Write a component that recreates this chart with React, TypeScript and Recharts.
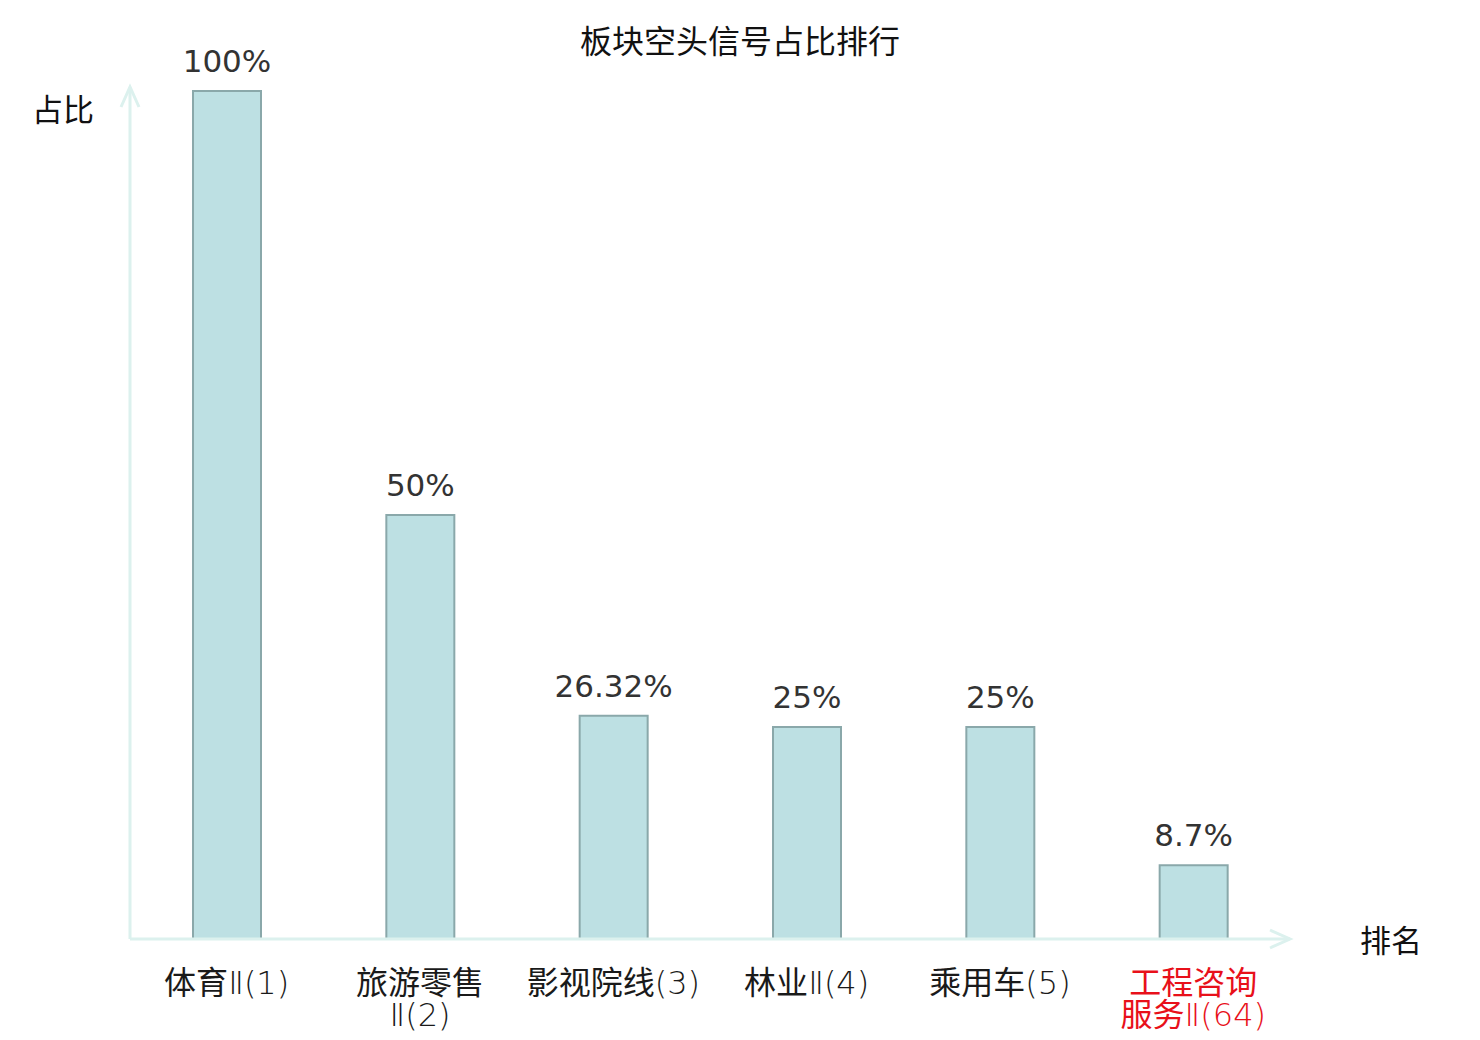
import React from 'react';
import { BarChart, Bar, XAxis, YAxis, LabelList } from 'recharts';

const categories = ['体育Ⅱ(1)', '旅游零售Ⅱ(2)', '影视院线(3)', '林业Ⅱ(4)', '乘用车(5)', '工程咨询服务Ⅱ(64)'];
const ratios = [100, 50, 26.32, 25, 25, 8.7];
const highlight = [false, false, false, false, false, true];

const data = categories.map((name, i) => ({ name, value: ratios[i], hl: highlight[i] }));

const W = 1480;
const H = 1040;
const M = { top: 91, left: 129, right: 190, bottom: 0 };
const XH = 101;
const AXIS = '#dcf1ee';
const FONT_CJK = '"Noto Sans CJK SC", "DejaVu Sans", sans-serif';
const FONT_NUM = '"DejaVu Sans", "Noto Sans CJK SC", sans-serif';

const splitRuns = (s: string) => {
  const runs: { t: string; cjk: boolean }[] = [];
  for (const ch of s) {
    const cjk = /[\u4e00-\u9fff]/.test(ch);
    const last = runs[runs.length - 1];
    if (last && last.cjk === cjk) last.t += ch;
    else runs.push({ t: ch, cjk });
  }
  return runs;
};

const Tick = (props: any) => {
  const { x, y, payload, index } = props;
  const name: string = payload.value;
  const lines = name.length > 7 ? [name.slice(0, 4), name.slice(4)] : [name];
  const red = highlight[index];
  return (
    <g>
      {lines.map((l, i) => (
        <text
          key={i}
          x={x}
          y={y + 47 + i * 32}
          textAnchor="middle"
          fontSize={32}
          fill={red ? '#e8101a' : '#1a1a1a'}
        >
          {splitRuns(l).map((r, j) => (
            <tspan
              key={j}
              fontFamily={r.cjk ? FONT_CJK : '"DejaVu Sans", sans-serif'}
              fontWeight={r.cjk ? 400 : 200}
            >
              {r.t}
            </tspan>
          ))}
        </text>
      ))}
    </g>
  );
};

export default function App() {
  const plotRight = W - M.right;
  const plotBottom = H - XH;
  const plotLeft = M.left + 1;
  return (
    <div style={{ position: 'absolute', left: 0, top: 0, width: W, height: H, background: '#fff' }}>
      <BarChart width={W} height={H} data={data} margin={M} barCategoryGap={0}>
        <XAxis
          dataKey="name"
          axisLine={{ stroke: AXIS, strokeWidth: 3 }}
          tickLine={false}
          tick={<Tick />}
          interval={0}
          height={XH}
        />
        <YAxis
          domain={[0, 100]}
          width={1}
          tick={false}
          tickLine={false}
          axisLine={{ stroke: AXIS, strokeWidth: 3 }}
        />
        <Bar dataKey="value" barSize={68} fill="#bde0e3" stroke="#8aa8aa" strokeWidth={2} isAnimationActive={false}>
          <LabelList
            dataKey="value"
            position="top"
            offset={19}
            formatter={(v: any) => `${v}%`}
            style={{ fontFamily: FONT_NUM, fontSize: 31, fill: '#333333' }}
          />
        </Bar>
      </BarChart>
      <svg width={W} height={H} style={{ position: 'absolute', left: 0, top: 0, pointerEvents: 'none' }}>
        <polyline
          points={`${plotRight - 20},${plotBottom - 9} ${plotRight},${plotBottom} ${plotRight - 20},${plotBottom + 9}`}
          fill="none"
          stroke={AXIS}
          strokeWidth={3}
        />
        <line x1={plotLeft} y1={M.top + 2} x2={plotLeft} y2={M.top - 4} stroke={AXIS} strokeWidth={3} />
        <polyline
          points={`${plotLeft - 9},${M.top + 16} ${plotLeft},${M.top - 4} ${plotLeft + 9},${M.top + 16}`}
          fill="none"
          stroke={AXIS}
          strokeWidth={3}
        />
        <text x={740} y={53} textAnchor="middle" fontFamily={FONT_CJK} fontSize={32} fill="#111">
          板块空头信号占比排行
        </text>
        <text x={63} y={121} textAnchor="middle" fontFamily={FONT_CJK} fontSize={31} fill="#111">
          占比
        </text>
        <text x={1391} y={952} textAnchor="middle" fontFamily={FONT_CJK} fontSize={31} fill="#111">
          排名
        </text>
      </svg>
    </div>
  );
}
